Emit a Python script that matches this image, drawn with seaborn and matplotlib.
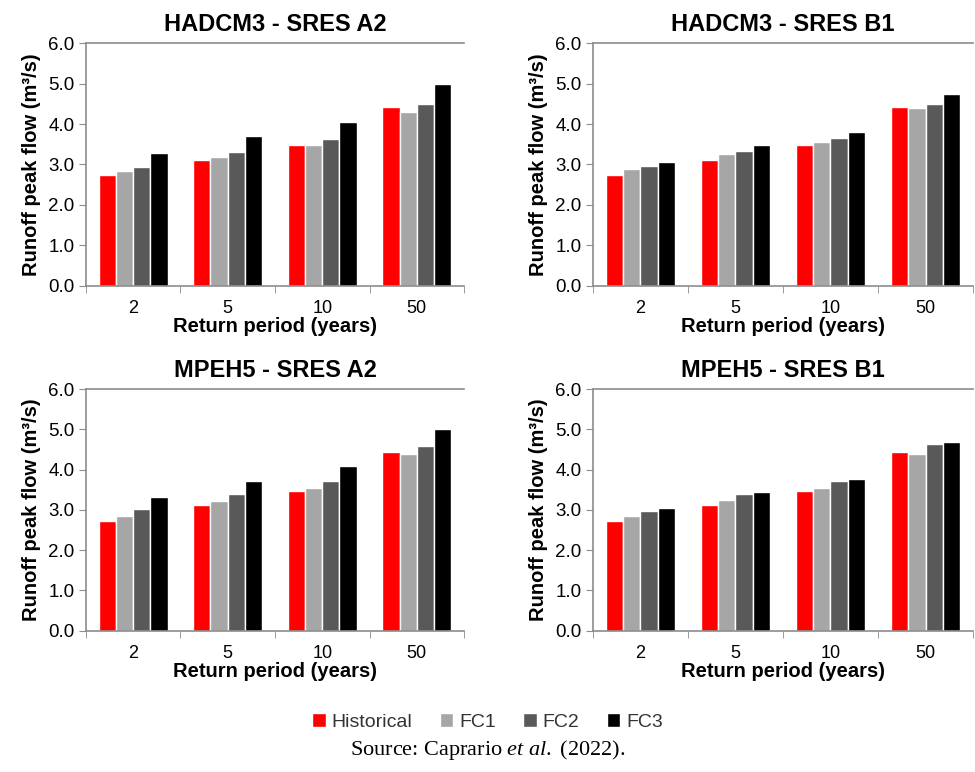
import numpy as np
import pandas as pd
import matplotlib
matplotlib.use("Agg")
import matplotlib.pyplot as plt
import seaborn as sns
from matplotlib.patches import Patch


# return periods (years) and series names
periods = ["2", "5", "10", "50"]
series = ["Historical", "FC1", "FC2", "FC3"]
colors = ["#FF0000", "#A6A6A6", "#595959", "#000000"]

# runoff peak flow (m3/s), one row per series: Historical, FC1, FC2, FC3
hadcm3_a2 = [[2.73, 3.12, 3.48, 4.43],
             [2.83, 3.19, 3.48, 4.31],
             [2.93, 3.30, 3.62, 4.50],
             [3.28, 3.71, 4.05, 4.98]]
hadcm3_b1 = [[2.73, 3.12, 3.48, 4.43],
             [2.88, 3.26, 3.56, 4.39],
             [2.97, 3.33, 3.66, 4.49],
             [3.05, 3.47, 3.80, 4.74]]
mpeh5_a2 = [[2.73, 3.12, 3.48, 4.43],
            [2.86, 3.23, 3.55, 4.39],
            [3.02, 3.39, 3.73, 4.59],
            [3.32, 3.73, 4.09, 5.02]]
mpeh5_b1 = [[2.73, 3.12, 3.48, 4.43],
            [2.86, 3.25, 3.55, 4.38],
            [2.97, 3.39, 3.73, 4.64],
            [3.05, 3.44, 3.77, 4.69]]

panels = [("HADCM3 - SRES A2", hadcm3_a2),
          ("HADCM3 - SRES B1", hadcm3_b1),
          ("MPEH5 - SRES A2", mpeh5_a2),
          ("MPEH5 - SRES B1", mpeh5_b1)]

sns.set_style("white")
plt.rcParams['font.family'] = ['Liberation Sans', 'DejaVu Sans']
plt.rcParams['text.color'] = 'black'
plt.rcParams['axes.labelcolor'] = 'black'
plt.rcParams['xtick.color'] = 'black'
plt.rcParams['ytick.color'] = 'black'
plt.rcParams['mathtext.fontset'] = 'custom'
plt.rcParams['mathtext.rm'] = 'Liberation Serif'
plt.rcParams['mathtext.it'] = 'Liberation Serif:italic'

fig = plt.figure(figsize=(9.75, 7.72), dpi=100)

# axes boxes [left, bottom, width, height] in figure fraction
boxes = [[0.088, 0.630, 0.388, 0.314],
         [0.608, 0.630, 0.390, 0.314],
         [0.088, 0.183, 0.388, 0.313],
         [0.608, 0.183, 0.390, 0.313]]

spine_col = "#8C8C8C"

for (title, vals), box in zip(panels, boxes):
    ax = fig.add_axes(box)
    rows = []
    for s, v in zip(series, vals):
        for p, y in zip(periods, v):
            rows.append((p, s, y))
    df = pd.DataFrame(rows, columns=["period", "series", "flow"])
    sns.barplot(data=df, x="period", y="flow", hue="series", order=periods,
                hue_order=series, palette=colors, saturation=1, width=0.73,
                legend=False, ax=ax, errorbar=None)
    ax.set_xlim(-0.5, 3.5)
    ax.set_ylim(0, 6.0)
    ax.set_yticks(np.arange(0, 6.01, 1.0))
    ax.set_yticklabels([f"{t:.1f}" for t in np.arange(0, 6.01, 1.0)])
    ax.set_xticks(np.arange(-0.5, 3.6, 1.0), minor=True)
    ax.tick_params(axis="x", which="major", length=0, labelsize=13, pad=10)
    ax.tick_params(axis="x", which="minor", length=5, color=spine_col, direction="out")
    ax.tick_params(axis="y", length=5, color=spine_col, direction="out", labelsize=13.5, pad=3)
    ax.xaxis.set_ticks_position("bottom")
    ax.yaxis.set_ticks_position("left")
    ax.spines["right"].set_visible(False)
    for side in ["left", "bottom", "top"]:
        ax.spines[side].set_color(spine_col)
        ax.spines[side].set_linewidth(1.2)
    ax.set_title(title, fontsize=17, fontweight="bold", pad=9)
    ax.set_xlabel("Return period (years)", fontsize=14.5, fontweight="bold", labelpad=0)
    ax.set_ylabel("Runoff peak flow (m³/s)", fontsize=14.5, fontweight="bold", labelpad=5)

handles = [Patch(facecolor=c, label=s) for s, c in zip(series, colors)]
fig.legend(handles=handles, loc="center", bbox_to_anchor=(0.5, 1 - 722 / 772), ncol=4,
           frameon=False, fontsize=14, handlelength=0.7, handleheight=0.7,
           handletextpad=0.3, columnspacing=1.4, labelcolor="#333333")

fig.text(0.5, 1 - 750 / 772, r"Source: Caprario $\mathit{et\ al.}$ (2022).",
         ha="center", va="center", fontsize=16, family="Liberation Serif")

fig.savefig("out.png", dpi=100)
